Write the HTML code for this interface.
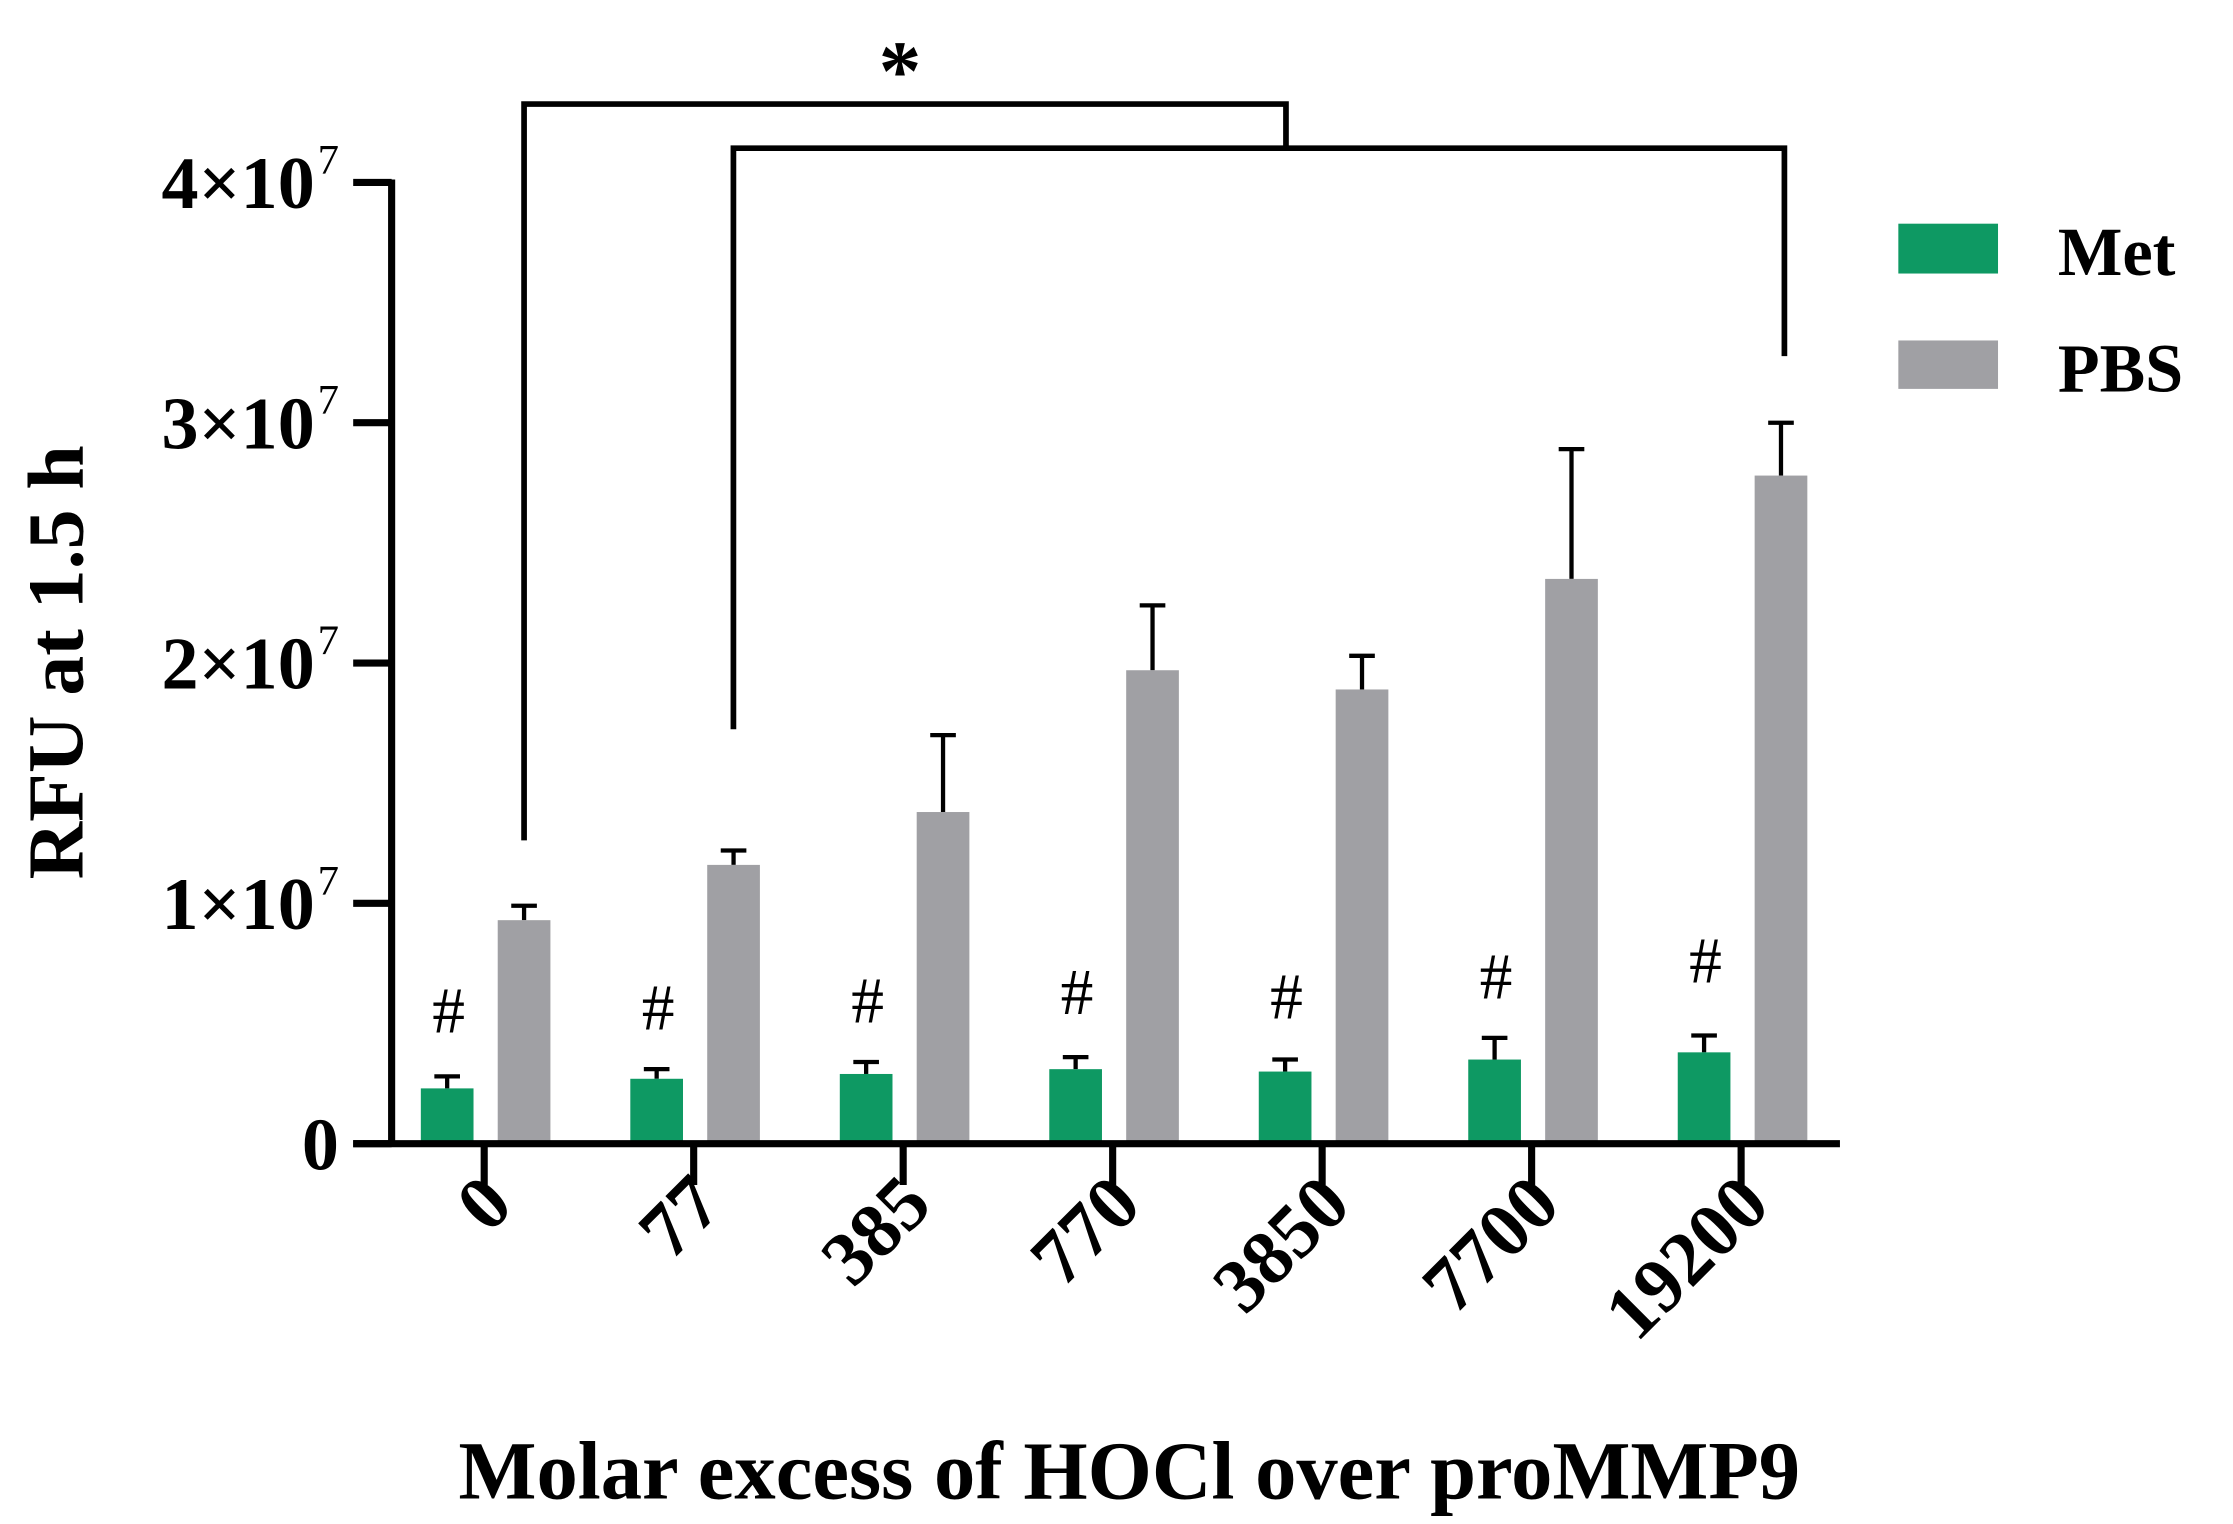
<!DOCTYPE html>
<html><head><meta charset="utf-8"><style>
html,body{margin:0;padding:0;background:#fff;}
svg{display:block;font-family:"Liberation Serif",serif;font-weight:bold;}
</style></head><body>
<svg id="chart" width="2233" height="1524" viewBox="0 0 1568 1070" xmlns="http://www.w3.org/2000/svg">
<g id="g"></g>
</svg>
<script>
const categories=["0","77","385","770","3850","7700","19200"];
const metValues=[2.3,2.7,2.9,3.1,3.0,3.5,3.8];
const metErrors=[0.5,0.4,0.5,0.5,0.5,0.9,0.7];
const pbsValues=[9.3,11.6,13.8,19.7,18.9,23.5,27.8];
const pbsErrors=[0.6,0.6,3.2,2.7,1.4,5.4,2.2];
const yTicks=[0,1,2,3,4];
const yTickLabels=["0","1×10","2×10","3×10","4×10"];
const hashY=[710,708,703,697,700,686,675];

const NS="http://www.w3.org/2000/svg";
const g=document.getElementById('g');
function y(v){return 803-v*16.875;}  // v in 1e6
function xc(i){return 340+i*147.1;}
function el(t,a,txt){const e=document.createElementNS(NS,t);for(const k in a)e.setAttribute(k,a[k]);if(txt!==undefined)e.textContent=txt;g.appendChild(e);return e;}

categories.forEach((c,i)=>{
  const xm=xc(i)-26,xp=xc(i)+28,w=37;
  let e=el('line',{x1:xm,x2:xm,y1:y(metValues[i]),y2:y(metValues[i]+metErrors[i]),stroke:'#000','stroke-width':3});
  
  e=el('line',{x1:xm-9,x2:xm+9,y1:y(metValues[i]+metErrors[i]),y2:y(metValues[i]+metErrors[i]),stroke:'#000','stroke-width':3});
  
  e=el('rect',{x:xm-w/2,y:y(metValues[i]),width:w,height:803-y(metValues[i]),fill:'#0e9963'});
  
  e=el('line',{x1:xp,x2:xp,y1:y(pbsValues[i]),y2:y(pbsValues[i]+pbsErrors[i]),stroke:'#000','stroke-width':3});
  
  e=el('line',{x1:xp-9,x2:xp+9,y1:y(pbsValues[i]+pbsErrors[i]),y2:y(pbsValues[i]+pbsErrors[i]),stroke:'#000','stroke-width':3});
  
  e=el('rect',{x:xp-w/2,y:y(pbsValues[i]),width:w,height:803-y(pbsValues[i]),fill:'#a0a0a4'});
  
  e=el('text',{x:xm+1,y:hashY[i]+15,'text-anchor':'middle','font-size':46,'font-weight':'normal'},'#');
  
  e=el('line',{x1:xc(i),x2:xc(i),y1:803,y2:832,stroke:'#000','stroke-width':5});
  
  e=el('text',{x:0,y:0,'text-anchor':'end','font-size':54,transform:`translate(${xc(i)+22},${848}) rotate(-45)`},c);
  
});
let a=el('line',{x1:275,x2:275,y1:126,y2:805,stroke:'#000','stroke-width':5});

a=el('line',{x1:248,x2:1292,y1:803,y2:803,stroke:'#000','stroke-width':5});

yTicks.forEach((v,i)=>{
  let e=el('line',{x1:248,x2:275,y1:y(v*10),y2:y(v*10),stroke:'#000','stroke-width':5});
  
  const t=el('text',{x:i===0?238:221,y:y(v*10)+18,'text-anchor':'end','font-size':52},yTickLabels[i]);
  
  if(i>0){const s=el('text',{x:223,y:y(v*10)-6,'text-anchor':'start','font-size':30,'font-weight':'normal'},'7');
  }
});
a=el('polyline',{points:'368,590 368,73 903,73 903,103',fill:'none',stroke:'#000','stroke-width':4});

a=el('polyline',{points:'515,512 515,104 1253,104 1253,250',fill:'none',stroke:'#000','stroke-width':4});

a=el('text',{x:632,y:70,'text-anchor':'middle','font-size':60},'*');

a=el('rect',{x:1333,y:157,width:70,height:35,fill:'#0e9963'});
a=el('text',{x:1445,y:193,'font-size':48},'Met');
a=el('rect',{x:1333,y:239,width:70,height:34,fill:'#a0a0a4'});
a=el('text',{x:1445,y:275,'font-size':48},'PBS');
a=el('text',{x:0,y:0,'text-anchor':'middle','font-size':56,transform:'translate(58,465) rotate(-90)'},'RFU at 1.5 h');

a=el('text',{x:793,y:1052,'text-anchor':'middle','font-size':58},'Molar excess of HOCl over proMMP9');

</script>
</body></html>
